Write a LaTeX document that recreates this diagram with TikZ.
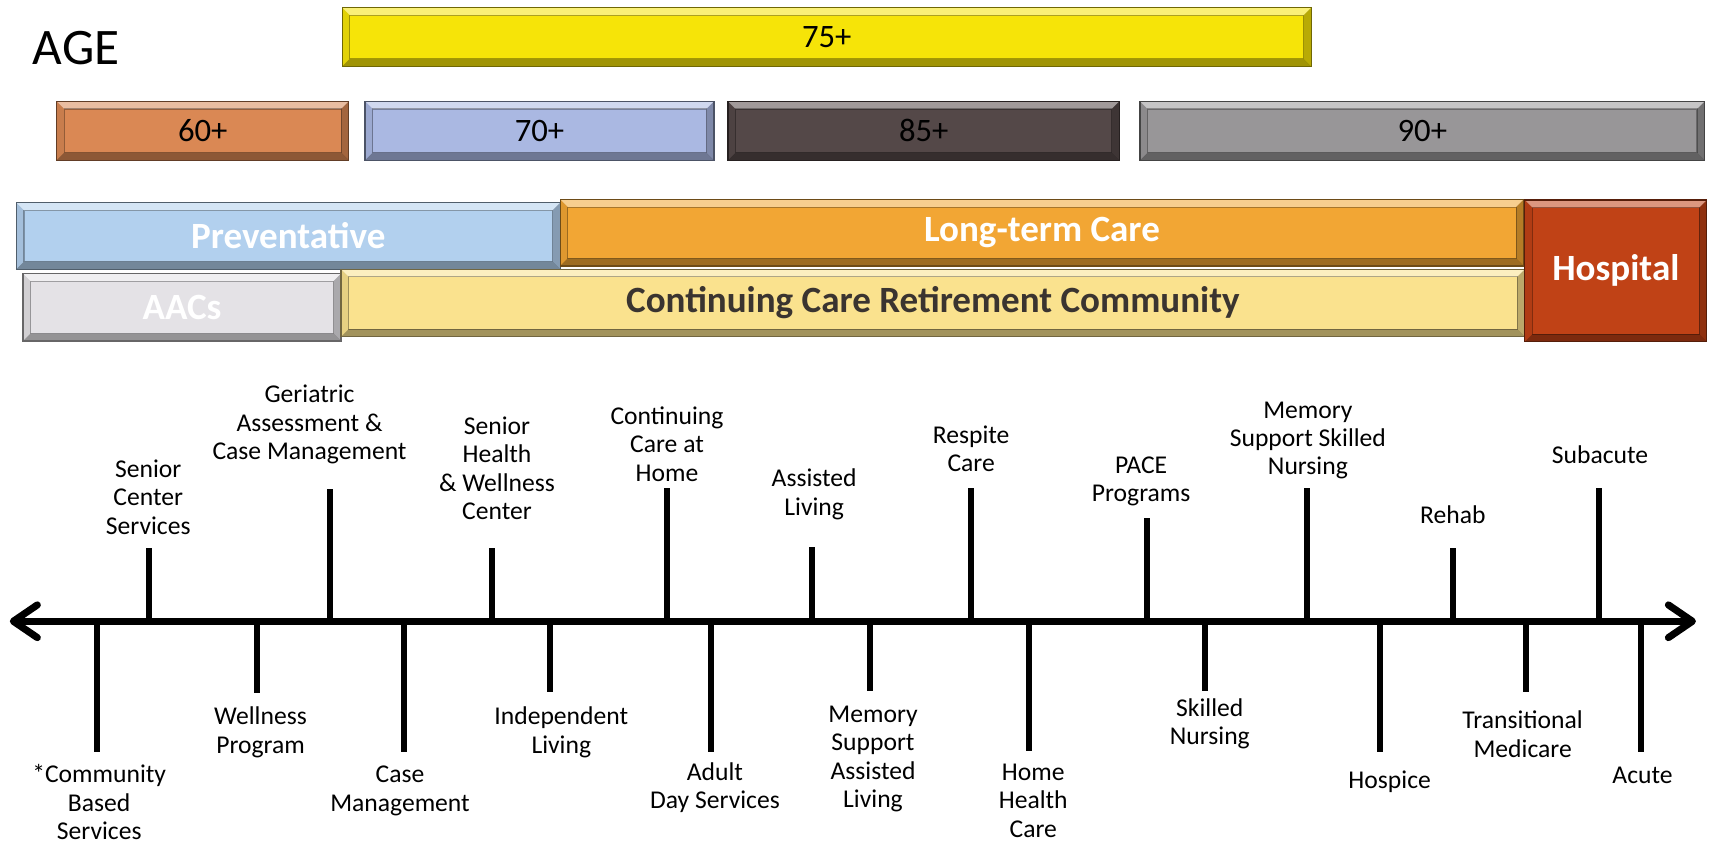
\documentclass[tikz,border=0pt]{standalone}
\usepackage{fontspec}
\setmainfont{Carlito}
\usetikzlibrary{arrows.meta}
\definecolor{c75}{RGB}{246,228,8}
\definecolor{c60}{RGB}{218,136,84}
\definecolor{c70}{RGB}{170,184,226}
\definecolor{c85}{RGB}{84,72,72}
\definecolor{c90}{RGB}{152,150,152}
\definecolor{cprev}{RGB}{178,208,238}
\definecolor{cltc}{RGB}{242,166,52}
\definecolor{caac}{RGB}{228,226,230}
\definecolor{cccrc}{RGB}{250,226,142}
\definecolor{chosp}{RGB}{192,66,22}
\definecolor{ccrctext}{RGB}{58,52,48}
\tikzset{
  bevel/.style={path picture={
    \def\pb{path picture bounding box}
    \fill[white,opacity=.45] (\pb.north west) -- (\pb.north east) -- ([shift={(-7pt,-7pt)}]\pb.north east) -- ([shift={(7pt,-7pt)}]\pb.north west) -- cycle;
    \fill[black,opacity=.35] (\pb.south west) -- (\pb.south east) -- ([shift={(-7pt,7pt)}]\pb.south east) -- ([shift={(7pt,7pt)}]\pb.south west) -- cycle;
    \fill[black,opacity=.08] (\pb.north west) -- (\pb.south west) -- ([shift={(7pt,7pt)}]\pb.south west) -- ([shift={(7pt,-7pt)}]\pb.north west) -- cycle;
    \fill[black,opacity=.25] (\pb.north east) -- (\pb.south east) -- ([shift={(-7pt,7pt)}]\pb.south east) -- ([shift={(-7pt,-7pt)}]\pb.north east) -- cycle;
    \draw[black,opacity=.3,line width=1pt] ([shift={(7pt,-7pt)}]\pb.north west) rectangle ([shift={(-7pt,7pt)}]\pb.south east);
  }},
  bar/.style={rectangle, inner sep=0pt, outer sep=0pt, fill=#1, draw=#1!45!black, line width=1.2pt, bevel},
  agetext/.style={font=\fontsize{30}{34}\selectfont, text=black},
  cattext/.style={font=\bfseries\fontsize{34}{38}\selectfont, text=white},
  lbl/.style={font=\fontsize{23.5}{26}\selectfont, align=center, inner sep=0pt, text=black},
  axisline/.style={line width=6.5pt, arrows={Straight Barb[length=22pt,width=30pt,round]-Straight Barb[length=22pt,width=30pt,round]}},
  tickline/.style={line width=5.5pt},
}
\begin{document}
\begin{tikzpicture}[x=1pt,y=-1pt]
\fill[white] (0,0) rectangle (1568,773);
\useasboundingbox (0,0) rectangle (1568,773);

\node[anchor=base west, font=\fontsize{47}{50}\selectfont, inner sep=0pt] (age) at (30,59) {AGE};

% age bars
\node[bar=c75, minimum width=889pt, minimum height=54pt, agetext] (b75) at (758.5,34) {75+};
\node[bar=c60, minimum width=268pt, minimum height=54pt, agetext] (b60) at (186,120) {60+};
\node[bar=c70, minimum width=320pt, minimum height=54pt, agetext] (b70) at (495,120) {70+};
\node[bar=c85, minimum width=359pt, minimum height=54pt, agetext] (b85) at (847.5,120) {85+};
\node[bar=c90, minimum width=518pt, minimum height=54pt, agetext] (b90) at (1305,120) {90+};

% care bars
\node[bar=cprev, minimum width=499pt, minimum height=61pt, cattext] (prev) at (264.5,216.5) {Preventative};
\node[bar=cltc, minimum width=884pt, minimum height=61pt, cattext] (ltc) at (956,213.5) {Long-term Care};
\node[bar=caac, minimum width=292pt, minimum height=62pt, cattext] (aac) at (167,282) {AACs};
\node[bar=cccrc, minimum width=1086pt, minimum height=62pt, cattext, text=ccrctext] (ccrc) at (856,278) {Continuing Care Retirement Community};
\node[bar=chosp, minimum width=167pt, minimum height=130pt, cattext] (hosp) at (1482.5,248.5) {Hospital};

% timeline axis
\coordinate (axL) at (9,570);
\coordinate (axR) at (1556,570);
\draw[axisline] (axL) -- (axR);

% upper ticks
\foreach \n/\x/\y in {t1/137/503, t2/303/449, t3/451/503, t4/612/448, t5/745/502, t6/891/448, t7/1052/475, t8/1199/448, t9/1333/503, t10/1467/448}{
  \coordinate (\n a) at (\x,570);
  \coordinate (\n e) at (\x,\y);
  \draw[tickline] (\n a) -- (\n e);
}
% lower ticks
\foreach \n/\x/\y in {u1/89/690, u2/236/636, u3/371/690, u4/505/635, u5/652/690, u6/798/634, u7/944/689, u8/1106/634, u9/1266/690, u10/1400/635, u11/1506/690}{
  \coordinate (\n a) at (\x,570);
  \coordinate (\n e) at (\x,\y);
  \draw[tickline] (\n a) -- (\n e);
}

% upper labels
\node[lbl] (l1) at (136,456) {Senior\\Center\\Services};
\node[lbl] (l2) at (284,389.5) {Geriatric\\Assessment \&\\Case Management};
\node[lbl] (l3) at (456,429.5) {Senior\\Health\\\& Wellness\\Center};
\node[lbl] (l4) at (612,407.5) {Continuing\\Care at\\Home};
\node[lbl] (l5) at (747,453.5) {Assisted\\Living};
\node[lbl] (l6) at (891,411.5) {Respite\\Care};
\node[lbl] (l7) at (1047,441.5) {PACE\\Programs};
\node[lbl] (l8) at (1200,404) {Memory\\Support Skilled\\Nursing};
\node[lbl] (l9) at (1333,472.6) {Rehab};
\node[lbl] (l10) at (1468,417.5) {Subacute};

% lower labels
\node[lbl] (m1) at (91,736) {*Community\\Based\\Services};
\node[lbl] (m2) at (239,672) {Wellness\\Program};
\node[lbl] (m3) at (367,725.5) {Case\\Management};
\node[lbl] (m4) at (515,672) {Independent\\Living};
\node[lbl] (m5) at (656,722.5) {Adult\\Day Services};
\node[lbl] (m6) at (801,696.5) {Memory\\Support\\Assisted\\Living};
\node[lbl] (m7) at (948,734.5) {Home\\Health\\Care};
\node[lbl] (m8) at (1110,664) {Skilled\\Nursing};
\node[lbl] (m9) at (1275,717) {Hospice};
\node[lbl] (m10) at (1397,673.6) {Transitional\\Medicare};
\node[lbl] (m11) at (1507,711) {Acute};
\end{tikzpicture}
\end{document}
